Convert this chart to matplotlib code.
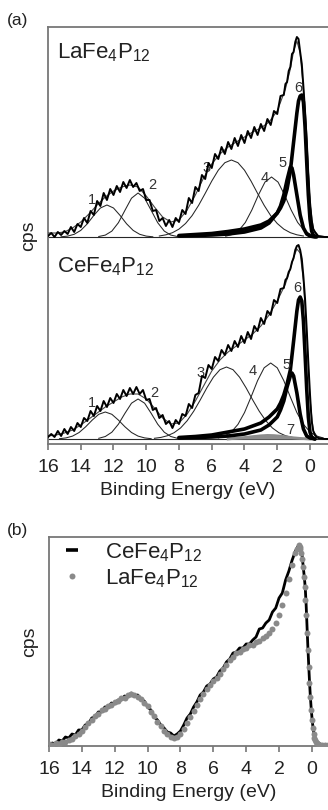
import numpy as np
import matplotlib
matplotlib.use("Agg")
import matplotlib.pyplot as plt
from matplotlib.lines import Line2D

plt.rcParams['font.family'] = ['Liberation Sans', 'DejaVu Sans']
plt.rcParams['mathtext.fontset'] = 'custom'
plt.rcParams['mathtext.rm'] = 'Liberation Sans'
plt.rcParams['mathtext.it'] = 'Liberation Sans:italic'
plt.rcParams['mathtext.bf'] = 'Liberation Sans:bold'

la_name = r'LaFe$_{4}$P$_{12}$'
ce_name = r'CeFe$_{4}$P$_{12}$'

# ---------- panel (a): raw spectra (heights above each baseline) ----------
energy_a = np.round(np.concatenate([np.arange(16.0, 1.55, -0.2),
                                    np.arange(1.5, -0.55, -0.1),
                                    [-0.7, -0.9, -1.1]]), 2)

la_spec = [1, 4, 0, 5, 2, 6, 3, 10, 5, 13,
           10, 19, 14, 26, 22, 36, 31, 44, 37, 48,
           42, 51, 45, 55, 49, 57, 50, 54, 46, 48,
           37, 37, 26, 27, 16, 19, 11, 17, 10, 19,
           15, 27, 23, 39, 34, 50, 46, 62, 58, 74,
           69, 83, 78, 90, 83, 95, 88, 99, 91, 102,
           94, 106, 99, 110, 102, 113, 106, 118, 112, 126,
           123, 141, 142,
           153, 155, 166, 170, 183, 185, 195, 200, 198, 185, 173,
           150, 125, 97, 62, 35, 17, 8, 5, 3, 1,
           0.5, 0, 0]

ce_spec = [2, 5, 2, 8, 3, 10, 5, 12, 8, 16,
           12, 21, 18, 28, 23, 33, 28, 38, 32, 41,
           36, 45, 40, 49, 43, 51, 45, 52, 45, 49,
           39, 40, 29, 31, 21, 24, 15, 18, 11, 19,
           15, 25, 23, 35, 31, 44, 46, 63, 61, 74,
           70, 82, 78, 89, 84, 94, 88, 98, 92, 103,
           96, 107, 100, 113, 108, 121, 115, 128, 124, 139,
           136, 150, 151,
           159, 161, 167, 170, 177, 181, 189, 193, 194, 189, 180,
           162, 140, 110, 76, 45, 18, 8, 4, 2, 1,
           0.5, 0, 0]

# fit envelopes
env_energy = [16, 15.5, 15, 14.5, 14, 13.5, 13, 12.5, 12, 11.5,
              11, 10.5, 10, 9.5, 9, 8.5, 8, 7.5, 7, 6.5,
              6, 5.5, 5, 4.5, 4, 3.5, 3, 2.5, 2, 1.5,
              1.2, 1.0, 0.8, 0.6, 0.4, 0.2, 0.0, -0.2, -0.5, -1.1]
la_env = [4, 4, 5, 9, 15, 23, 32, 40, 46, 50,
          52, 50, 41, 30, 20, 15, 17, 27, 42, 59,
          73, 83, 90, 95, 100, 105, 109, 115, 126, 148,
          168, 186, 196, 184, 148, 96, 34, 8, 1, 0]
ce_env = [3, 4, 6, 9, 14, 20, 26, 32, 37, 42,
          45, 45, 40, 31, 21, 15, 16, 25, 38, 53,
          68, 79, 87, 93, 99, 105, 113, 124, 138, 155,
          170, 182, 190, 186, 158, 105, 40, 8, 1, 0]

# fitted components, LaFe4P12
la_c1_e = [15.2, 14.8, 14.4, 14.0, 13.6, 13.2, 12.8, 12.4, 12.0, 11.6, 11.2, 10.8, 10.4, 10.0, 9.6]
la_c1 = [0.2, 0.9, 2.7, 6.6, 13.2, 21.6, 29.0, 32.0, 29.0, 21.6, 13.2, 6.6, 2.7, 0.9, 0.2]
la_c2_e = [12.9, 12.5, 12.1, 11.7, 11.3, 10.9, 10.5, 10.1, 9.7, 9.3, 8.9, 8.5, 8.1]
la_c2 = [0.5, 1.9, 5.9, 14.3, 26.7, 38.8, 44, 38.8, 26.7, 14.3, 5.9, 1.9, 0.5]
la_c3_e = [9.2, 8.8, 8.4, 8.0, 7.6, 7.2, 6.8, 6.4, 6.0, 5.6, 5.2, 4.8,
           4.4, 4.0, 3.6, 3.2, 2.8, 2.4, 2.0, 1.6, 1.2, 0.8, 0.4]
la_c3 = [1.0, 2.2, 4.3, 7.9, 13.5, 21.4, 31.7, 43.6, 55.9, 66.8, 74.3, 77.0,
         74.3, 66.8, 55.9, 43.6, 31.7, 21.4, 13.5, 7.9, 4.3, 2.2, 1.0]
la_c4_e = [5.15, 4.75, 4.35, 3.95, 3.55, 3.15, 2.75, 2.35, 1.95, 1.55, 1.15, 0.75, 0.35, -0.05, -0.45]
la_c4 = [0.8, 2.5, 6.5, 14.5, 27.0, 42.0, 54.9, 60.0, 54.9, 42.0, 27.0, 14.5, 6.5, 2.5, 0.8]
la_c5_e = [8.0, 6.0, 5.0, 4.0, 3.0, 2.5, 2.0, 1.8, 1.6, 1.4, 1.2, 1.1, 1.0, 0.8, 0.6, 0.4, 0.2, 0.0, -0.3]
la_c5 = [1, 2, 3, 5, 9, 14, 24, 31, 42, 57, 70, 69, 62, 42, 22, 9, 3, 1, 0]
la_c6_e = [8.0, 7.0, 6.0, 5.0, 4.0, 3.0, 2.5, 2.0, 1.8, 1.6, 1.4, 1.2, 1.0,
           0.8, 0.7, 0.6, 0.5, 0.4, 0.3, 0.2, 0.1, 0.0, -0.1, -0.2, -0.4]
la_c6 = [1.5, 2.5, 3.5, 5.5, 8, 12, 16, 24, 29, 36, 48, 66, 95,
         124, 136, 141, 142, 135, 110, 75, 42, 18, 6, 2, 0]

# fitted components, CeFe4P12
ce_c1_e = [15.3, 14.9, 14.5, 14.1, 13.7, 13.3, 12.9, 12.5, 12.1, 11.7, 11.3, 10.9, 10.5, 10.1, 9.7]
ce_c1 = [0.3, 1.1, 2.9, 6.5, 12.2, 18.9, 24.7, 27, 24.7, 18.9, 12.2, 6.5, 2.9, 1.1, 0.3]
ce_c2_e = [12.9, 12.5, 12.1, 11.7, 11.3, 10.9, 10.5, 10.1, 9.7, 9.3, 8.9, 8.5, 8.1]
ce_c2 = [0.7, 2.5, 6.8, 14.8, 25.7, 35.8, 40, 35.8, 25.7, 14.8, 6.8, 2.5, 0.7]
ce_c3_e = [9.5, 9.1, 8.7, 8.3, 7.9, 7.5, 7.1, 6.7, 6.3, 5.9, 5.5, 5.1,
           4.7, 4.3, 3.9, 3.5, 3.1, 2.7, 2.3, 1.9, 1.5, 1.1, 0.7]
ce_c3 = [0.7, 1.6, 3.3, 6.3, 11.1, 18.3, 27.8, 39.1, 51.1, 61.8, 69.3, 72,
         69.3, 61.8, 51.1, 39.1, 27.8, 18.3, 11.1, 6.3, 3.3, 1.6, 0.7]
ce_c4_e = [5.6, 5.2, 4.8, 4.4, 4.0, 3.6, 3.2, 2.8, 2.4, 2.0, 1.6, 1.2, 0.8, 0.4, 0.0, -0.4, -0.8]
ce_c4 = [1.1, 3.0, 7.1, 14.6, 26.4, 42.0, 58.4, 71.2, 76, 71.2, 58.4, 42.0, 26.4, 14.6, 7.1, 3.0, 1.1]
ce_c5_e = [8.0, 6.0, 5.0, 4.0, 3.0, 2.5, 2.0, 1.8, 1.6, 1.4, 1.2, 1.1, 1.0, 0.8, 0.6, 0.4, 0.2, 0.0, -0.3]
ce_c5 = [1, 2, 3, 5, 9, 14, 22, 29, 38, 52, 63, 66, 63, 46, 25, 10, 3, 1, 0]
ce_c6_e = [8.0, 7.0, 6.0, 5.0, 4.0, 3.0, 2.5, 2.0, 1.8, 1.6, 1.4, 1.2, 1.0,
           0.8, 0.7, 0.6, 0.5, 0.4, 0.3, 0.2, 0.1, 0.0, -0.1, -0.3]
ce_c6 = [1.5, 2.5, 4, 7, 10, 16, 22, 30, 36, 44, 55, 69, 98,
         128, 139, 142, 138, 118, 85, 50, 22, 7, 2, 0]
ce_c7_e = [5.0, 4.5, 4.0, 3.5, 3.0, 2.6, 2.2, 1.8, 1.4, 1.0, 0.6, 0.2, 0.0]
ce_c7 = [0, 0.8, 1.5, 2.4, 3.2, 3.6, 3.4, 2.8, 2.0, 1.2, 0.6, 0.2, 0]

la_offset = 202   # LaFe4P12 spectrum is stacked above CeFe4P12

# peak number labels (energy, height in panel units)
la_tags = [("1", 13.3, 239), ("2", 9.66, 254), ("3", 6.3, 271),
           ("4", 2.75, 261), ("5", 1.65, 276), ("6", 0.73, 351)]
ce_tags = [("1", 13.3, 36), ("2", 9.5, 46), ("3", 6.7, 66), ("4", 3.5, 68),
           ("5", 1.45, 74), ("6", 0.8, 151), ("7", 1.2, 9)]

# ---------- panel (b): normalised valence bands ----------
energy_b = np.round(np.concatenate([np.arange(16.0, 0.95, -0.2), [0.9, 0.8],
                                    np.arange(0.75, -0.325, -0.05),
                                    [-0.4, -0.5, -0.6, -0.8, -1.0]]), 2)

ce_norm = [0, 2, 1, 5, 4, 8, 7, 11, 10, 15,
           15, 20, 21, 27, 28, 33, 33, 38, 38, 42,
           41, 45, 45, 49, 48, 52, 49, 50, 45, 44,
           38, 35, 28, 25, 20, 17, 13, 12, 9, 11,
           14, 20, 27, 31, 38, 43, 50, 53, 59, 61,
           66, 68, 74, 77, 83, 86, 92, 93, 97, 97,
           101, 101, 105, 108, 116, 117, 122, 125, 133, 137,
           147, 152, 165, 174, 185, 194,
           197, 200,
           199, 197, 194, 190, 182, 174, 166, 156, 140, 120, 100,
           82, 65, 50, 38, 28, 20, 14, 10, 7, 5, 3,
           2, 1, 0, 0, 0]

la_norm = [1, 0, 2, 1, 3, 3, 5, 6, 9, 11,
           14, 18, 22, 25, 29, 31, 35, 36, 39, 40,
           43, 44, 47, 47, 50, 51, 50, 48, 46, 42,
           39, 33, 29, 23, 19, 14, 11, 8, 7, 8,
           11, 16, 22, 28, 34, 40, 46, 51, 56, 60,
           64, 67, 71, 76, 80, 85, 88, 92, 93, 96,
           97, 100, 100, 103, 104, 107, 109, 112, 116, 122,
           130, 140, 152, 166, 180, 192,
           196, 200,
           198, 196, 192, 186, 178, 168, 158, 145, 130, 112, 95,
           78, 62, 48, 35, 25, 17, 11, 7, 5, 3, 2,
           1, 0, 0, 0, 0]

xticks = [16, 14, 12, 10, 8, 6, 4, 2, 0]
frame_col = "#777777"
text_col = "#222222"


def style_axes(ax):
    for side in ["left", "top", "bottom"]:
        ax.spines[side].set_color(frame_col)
        ax.spines[side].set_linewidth(1.3)
    ax.spines["right"].set_visible(False)
    ax.set_xticks(xticks)
    ax.set_xticklabels([str(t) for t in xticks])
    ax.set_yticks([])
    ax.tick_params(axis="x", direction="out", length=4, width=1.2,
                   color=frame_col, labelsize=14, labelcolor=text_col, pad=7)
    ax.set_xlabel("Binding Energy (eV)", fontsize=14, color=text_col, labelpad=4)
    ax.set_ylabel("cps", fontsize=14, color=text_col, labelpad=8)


fig = plt.figure(figsize=(3.28, 8.10), dpi=100)

# ---- (a)
ax1 = fig.add_axes([48 / 328, 1 - 444 / 810, 280 / 328, 417 / 810])
ax1.set_xlim(16, -1.1)
ax1.set_ylim(-5, 412)

thin = dict(color="#262626", lw=0.75)
thick = dict(color="black", lw=2.6, solid_capstyle="round")

for off, spec, env, comps, bold in [
        (la_offset, la_spec, la_env,
         [(la_c1_e, la_c1), (la_c2_e, la_c2), (la_c3_e, la_c3), (la_c4_e, la_c4)],
         [(la_c5_e, la_c5), (la_c6_e, la_c6)]),
        (0, ce_spec, ce_env,
         [(ce_c1_e, ce_c1), (ce_c2_e, ce_c2), (ce_c3_e, ce_c3), (ce_c4_e, ce_c4)],
         [(ce_c5_e, ce_c5), (ce_c6_e, ce_c6)])]:
    ax1.axhline(off, color="#262626", lw=0.8, zorder=1)
    for e, h in comps:
        ax1.plot(e, np.array(h) + off, **thin, zorder=2)
    for e, h in bold:
        ax1.plot(e, np.array(h) + off, **thick, zorder=3)
    ax1.plot(env_energy, np.array(env) + off, color="#444444", lw=0.8, zorder=4)
    ax1.plot(energy_a, np.array(spec) + off, color="black", lw=1.4, zorder=5)

ax1.fill_between(ce_c7_e, 0, ce_c7, color="#8c8c8c", lw=0, zorder=2)
ax1.plot(ce_c7_e, ce_c7, color="#8c8c8c", lw=2, zorder=2)

for tag, e, y in la_tags + ce_tags:
    ax1.text(e, y, tag, fontsize=10.5, color="#333333", ha="center", va="center")

ax1.text(0.032, 0.925, la_name, transform=ax1.transAxes, fontsize=16,
         color=text_col, ha="left", va="baseline")
ax1.text(0.032, 0.412, ce_name, transform=ax1.transAxes, fontsize=16,
         color=text_col, ha="left", va="baseline")
style_axes(ax1)

# ---- (b)
ax2 = fig.add_axes([49 / 328, 1 - 746 / 810, 279 / 328, 209 / 810])
ax2.set_xlim(16.0, -0.98)
ax2.set_ylim(-1, 208)
ax2.plot(energy_b, ce_norm, color="black", lw=2.0, zorder=2)
ax2.plot(energy_b, la_norm, "o", color="#8a8a8a", ms=4.3, mew=0, zorder=3)
handles = [Line2D([], [], color="black", marker="_", ms=9, mew=2.6, ls="none"),
           Line2D([], [], color="#8a8a8a", marker="o", ms=4.3, mew=0, ls="none")]
ax2.legend(handles, [ce_name, la_name], loc="upper left",
           bbox_to_anchor=(0.043, 0.98), frameon=False, fontsize=16,
           handlelength=1.0, handletextpad=1.0, labelspacing=0.15,
           borderpad=0.0, borderaxespad=0.0, labelcolor=text_col)
style_axes(ax2)

fig.text(7 / 328, 1 - 20 / 810, "(a)", fontsize=12.5, color=text_col, va="center")
fig.text(7 / 328, 1 - 530 / 810, "(b)", fontsize=12.5, color=text_col, va="center")

fig.savefig("out.png", dpi=100)
